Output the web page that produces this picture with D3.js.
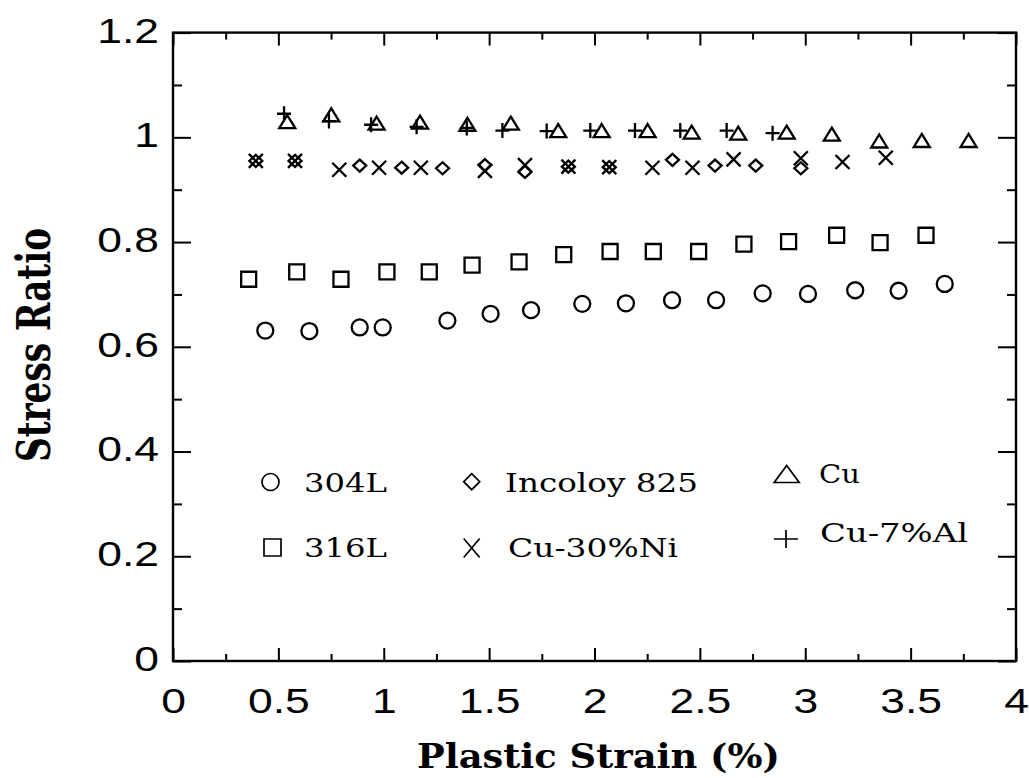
<!DOCTYPE html>
<html>
<head>
<meta charset="utf-8">
<script src="https://cdn.jsdelivr.net/npm/d3@7/dist/d3.min.js"></script>
<style>
  html, body { margin: 0; padding: 0; background: #fff; }
  svg { display: block; }
</style>
</head>
<body>
<svg id="chart" width="1029" height="778"></svg>
<script>
// ---------------- DATA ----------------
const xTicksMajor = [0, 0.5, 1, 1.5, 2, 2.5, 3, 3.5, 4];
const xTickLabels = ["0", "0.5", "1", "1.5", "2", "2.5", "3", "3.5", "4"];
const yTicksMajor = [0, 0.2, 0.4, 0.6, 0.8, 1.0, 1.2];
const yTickLabels = ["0", "0.2", "0.4", "0.6", "0.8", "1", "1.2"];

const s304L_x = [0.438, 0.647, 0.886, 0.995, 1.302, 1.507, 1.699, 1.942, 2.149, 2.368, 2.577, 2.798, 3.013, 3.237, 3.443, 3.662];
const s304L_y = [0.631, 0.630, 0.637, 0.637, 0.650, 0.663, 0.670, 0.682, 0.683, 0.689, 0.689, 0.702, 0.701, 0.708, 0.707, 0.720];

const s316L_x = [0.359, 0.587, 0.797, 1.015, 1.216, 1.419, 1.642, 1.854, 2.074, 2.279, 2.494, 2.709, 2.921, 3.149, 3.355, 3.573];
const s316L_y = [0.729, 0.743, 0.729, 0.743, 0.743, 0.756, 0.762, 0.776, 0.782, 0.782, 0.782, 0.796, 0.801, 0.813, 0.799, 0.813];

const incoloy_x = [0.393, 0.579, 0.886, 1.085, 1.279, 1.480, 1.670, 1.876, 2.070, 2.370, 2.572, 2.765, 2.979];
const incoloy_y = [0.955, 0.955, 0.946, 0.942, 0.941, 0.947, 0.934, 0.944, 0.943, 0.957, 0.946, 0.946, 0.941];

const cuNi_x = [0.393, 0.579, 0.789, 0.978, 1.176, 1.480, 1.670, 1.876, 2.070, 2.275, 2.465, 2.660, 2.979, 3.177, 3.382];
const cuNi_y = [0.955, 0.955, 0.938, 0.942, 0.942, 0.936, 0.947, 0.944, 0.943, 0.942, 0.942, 0.958, 0.960, 0.953, 0.961];

const cu_x = [0.542, 0.751, 0.966, 1.172, 1.397, 1.603, 1.828, 2.034, 2.252, 2.461, 2.682, 2.912, 3.126, 3.351, 3.553, 3.775];
const cu_y = [1.030, 1.043, 1.027, 1.029, 1.025, 1.027, 1.013, 1.013, 1.013, 1.010, 1.008, 1.010, 1.006, 0.993, 0.994, 0.994];

const cuAl_x = [0.527, 0.740, 0.940, 1.156, 1.394, 1.563, 1.773, 1.980, 2.192, 2.407, 2.627, 2.845];
const cuAl_y = [1.045, 1.031, 1.024, 1.020, 1.018, 1.013, 1.012, 1.013, 1.013, 1.013, 1.013, 1.008];

const seriesNames = ["304L", "316L", "Incoloy 825", "Cu-30%Ni", "Cu", "Cu-7%Al"];

// ---------------- LAYOUT ----------------
const L = 173, R = 1016, T = 32.6, B = 661;
const svg = d3.select("#chart");
const x = d3.scaleLinear().domain([0, 4]).range([L, R]);
const y = d3.scaleLinear().domain([0, 1.2]).range([B, T]);

const SX = 1.27; // horizontal stretch of text in the reference
const tickFont = "'Liberation Sans', Arial, Helvetica, sans-serif";
const serif = "'DejaVu Serif', 'Liberation Serif', serif";

// marker shapes
function markerPath(type, w, h) {
  const p = d3.path();
  const hw = w / 2, hh = h / 2;
  if (type === "circle") { p.moveTo(hw, 0); p.arc(0, 0, hw, 0, 2 * Math.PI); }
  else if (type === "square") { p.rect(-hw, -hh, w, h); }
  else if (type === "diamond") { p.moveTo(0, -hh); p.lineTo(hw, 0); p.lineTo(0, hh); p.lineTo(-hw, 0); p.closePath(); }
  else if (type === "triangle") { p.moveTo(0, -hh); p.lineTo(hw, hh); p.lineTo(-hw, hh); p.closePath(); }
  else if (type === "cross") { p.moveTo(-hw, -hh); p.lineTo(hw, hh); p.moveTo(hw, -hh); p.lineTo(-hw, hh); }
  else if (type === "plus") { p.moveTo(-hw, 0); p.lineTo(hw, 0); p.moveTo(0, -hh); p.lineTo(0, hh); }
  return p.toString();
}

const series = [
  { name: seriesNames[0], xs: s304L_x, ys: s304L_y, type: "circle", w: 16, h: 16 },
  { name: seriesNames[1], xs: s316L_x, ys: s316L_y, type: "square", w: 15, h: 15 },
  { name: seriesNames[2], xs: incoloy_x, ys: incoloy_y, type: "diamond", w: 13, h: 12 },
  { name: seriesNames[3], xs: cuNi_x, ys: cuNi_y, type: "cross", w: 14, h: 14 },
  { name: seriesNames[4], xs: cu_x, ys: cu_y, type: "triangle", w: 16, h: 13 },
  { name: seriesNames[5], xs: cuAl_x, ys: cuAl_y, type: "plus", w: 14, h: 15 }
];

// ---------------- AXES ----------------
const xMinor = d3.range(0.25, 4, 0.5);
const yMinor = d3.range(0.1, 1.2, 0.2);

function styleAxis(g) {
  g.select(".domain").remove();
  g.selectAll(".tick line").attr("stroke", "#000").attr("stroke-width", 2);
}

// bottom major with labels
const gxB = svg.append("g").attr("transform", `translate(0,${B})`)
  .call(d3.axisBottom(x).tickValues(xTicksMajor).tickSize(-13).tickPadding(27)
    .tickFormat((d, i) => xTickLabels[i]));
styleAxis(gxB);
gxB.selectAll(".tick text")
  .attr("font-family", tickFont).attr("font-size", 35).attr("fill", "#000")
  .attr("transform", `scale(${SX},1)`);
svg.append("g").attr("transform", `translate(0,${B})`)
  .call(d3.axisBottom(x).tickValues(xMinor).tickSize(-7).tickFormat(""))
  .call(styleAxis);
// top
svg.append("g").attr("transform", `translate(0,${T})`)
  .call(d3.axisTop(x).tickValues(xTicksMajor).tickSize(-13).tickFormat(""))
  .call(styleAxis);
svg.append("g").attr("transform", `translate(0,${T})`)
  .call(d3.axisTop(x).tickValues(xMinor).tickSize(-7).tickFormat(""))
  .call(styleAxis);
// left with labels
const gyL = svg.append("g").attr("transform", `translate(${L},0)`)
  .call(d3.axisLeft(y).tickValues(yTicksMajor).tickSize(-18).tickPadding(14)
    .tickFormat((d, i) => yTickLabels[i]));
styleAxis(gyL);
gyL.selectAll(".tick text")
  .attr("font-family", tickFont).attr("font-size", 35).attr("fill", "#000")
  .attr("x", -14 / SX).attr("dy", "0.27em")
  .attr("transform", `scale(${SX},1)`);
svg.append("g").attr("transform", `translate(${L},0)`)
  .call(d3.axisLeft(y).tickValues(yMinor).tickSize(-9).tickFormat(""))
  .call(styleAxis);
// right
svg.append("g").attr("transform", `translate(${R},0)`)
  .call(d3.axisRight(y).tickValues(yTicksMajor).tickSize(-18).tickFormat(""))
  .call(styleAxis);
svg.append("g").attr("transform", `translate(${R},0)`)
  .call(d3.axisRight(y).tickValues(yMinor).tickSize(-9).tickFormat(""))
  .call(styleAxis);

// frame
svg.append("rect").attr("x", L).attr("y", T).attr("width", R - L).attr("height", B - T)
  .attr("fill", "none").attr("stroke", "#000").attr("stroke-width", 2.4);

// ---------------- MARKS ----------------
series.forEach(s => {
  const pts = s.xs.map((v, i) => [v, s.ys[i]]);
  svg.append("g").selectAll("path").data(pts).join("path")
    .attr("transform", d => `translate(${x(d[0])},${y(d[1])})`)
    .attr("d", markerPath(s.type, s.w, s.h))
    .attr("fill", "none").attr("stroke", "#000").attr("stroke-width", 2.3)
    .attr("stroke-linejoin", "miter");
});

// ---------------- LEGEND ----------------
const legendItems = [
  { i: 0, mx: 270.5, my: 482, type: "circle", w: 17, h: 17, tx: 304, ty: 491.7, tl: 83 },
  { i: 1, mx: 272.5, my: 547.5, type: "square", w: 17, h: 17, tx: 304, ty: 557, tl: 83 },
  { i: 2, mx: 471.7, my: 481.7, type: "diamond", w: 16, h: 16, tx: 505, ty: 491.7, tl: 193 },
  { i: 3, mx: 471.7, my: 548, type: "cross", w: 16, h: 19, tx: 508, ty: 557, tl: 170 },
  { i: 4, mx: 786.7, my: 474, type: "triangle", w: 25, h: 17, tx: 819, ty: 483.3, tl: 41 },
  { i: 5, mx: 786, my: 539, type: "plus", w: 24, h: 18, tx: 820, ty: 541.7, tl: 148 }
];
const lg = svg.append("g");
legendItems.forEach(it => {
  lg.append("path")
    .attr("transform", `translate(${it.mx},${it.my})`)
    .attr("d", markerPath(it.type, it.w, it.h))
    .attr("fill", "none").attr("stroke", "#000").attr("stroke-width", 1.7);
  lg.append("text")
    .attr("x", it.tx).attr("y", it.ty)
    .attr("font-family", serif).attr("font-size", 26.5).attr("fill", "#000")
    .attr("textLength", it.tl).attr("lengthAdjust", "spacingAndGlyphs")
    .text(seriesNames[it.i]);
});

// ---------------- TITLES ----------------
svg.append("text")
  .attr("x", 417).attr("y", 768)
  .attr("font-family", serif).attr("font-weight", "bold").attr("font-size", 34)
  .attr("textLength", 363).attr("lengthAdjust", "spacingAndGlyphs")
  .attr("fill", "#000")
  .text("Plastic Strain (%)");

svg.append("g").attr("transform", `translate(50,345) scale(1.35,1)`)
  .append("text")
  .attr("transform", "rotate(-90)")
  .attr("text-anchor", "middle")
  .attr("font-family", serif).attr("font-weight", "bold").attr("font-size", 34)
  .attr("textLength", 234).attr("lengthAdjust", "spacingAndGlyphs")
  .attr("fill", "#000")
  .text("Stress Ratio");
</script>
</body>
</html>
